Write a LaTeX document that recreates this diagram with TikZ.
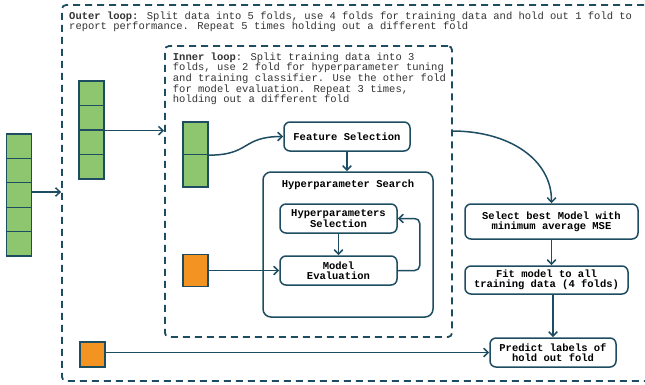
\documentclass[tikz,border=0pt]{standalone}
\usepackage{fontspec}
\setmainfont{Liberation Mono}
\usetikzlibrary{arrows.meta,calc}
\definecolor{ink}{HTML}{1E4D62}
\definecolor{foldgreen}{HTML}{8DC66E}
\definecolor{foldorange}{HTML}{F39322}
\definecolor{bodytext}{HTML}{333333}
\begin{document}
\begin{tikzpicture}[x=1pt,y=-1pt,
  font=\fontsize{10.5}{10.6}\selectfont,
  conn/.style={draw=ink, line width=1.5pt, -{Straight Barb[length=4.5pt,width=8.5pt]}},
  box/.style={draw=ink, line width=1.5pt, rounded corners=6pt, fill=white,
    align=center, inner sep=0pt, font=\fontsize{10.5}{10.4}\selectfont\bfseries, text=black},
  loopbox/.style={draw=ink, line width=1.8pt, dash pattern=on 7pt off 5pt,
    rounded corners=4pt, inner sep=0pt},
  fold/.style={draw=ink, line width=1.3pt, fill=foldgreen, inner sep=0pt,
    minimum width=25pt},
  heldout/.style={fold, fill=foldorange},
  note/.style={anchor=base west, align=left, inner sep=0pt, text=bodytext}]

\useasboundingbox (0,0) rectangle (645,384);
\clip (0,0) rectangle (645,384);

% dashed loop frames
\node[loopbox, minimum width=598pt, minimum height=376pt] (outer) at (361,193) {};
\node[loopbox, minimum width=287pt, minimum height=291pt] (inner) at (308.5,191.5) {};

% loop descriptions (anchored on the baseline of their last line)
\node[note] (outertxt) at (69,29.8)
  {\textbf{Outer loop:} Split data into 5 folds, use 4 folds for training data and hold out 1 fold to\\
   report performance. Repeat 5 times holding out a different fold};
\node[note] (innertxt) at (172.7,102.6)
  {\textbf{Inner loop}: Split training data into 3\\
   folds, use 2 fold for hyperparameter tuning\\
   and training classifier. Use the other fold\\
   for model evaluation. Repeat 3 times,\\
   holding out a different fold};

% data folds
\foreach \i in {1,...,5}
  \node[fold, minimum height=24.4pt] (ga\i) at (19,{134+24.4*(\i-0.5)}) {};
\foreach \i in {1,...,4}
  \node[fold, minimum height=24.5pt] (gb\i) at (91.5,{81+24.5*(\i-0.5)}) {};
\foreach \i in {1,2}
  \node[fold, minimum height=32.5pt] (gc\i) at (195.5,{122+32.5*(\i-0.5)}) {};
\node[heldout, minimum height=32pt] (om) at (195.5,270.5) {};
\node[heldout, minimum height=25pt] (ob) at (92.5,354.5) {};

% process boxes
\node[box, minimum width=126pt, minimum height=29pt] (feat) at (347,136.5) {Feature Selection};
\node[box, rounded corners=8pt, minimum width=170pt, minimum height=145pt] (hps) at (348,244.5) {};
\node[anchor=base, inner sep=0pt, font=\fontsize{10.5}{10.6}\selectfont\bfseries] (hpstitle) at (348,187.5) {Hyperparameter Search};
\node[box, minimum width=117pt, minimum height=29pt] (hsel) at (338.5,218.5) {Hyperparameters\\Selection};
\node[box, minimum width=117pt, minimum height=29pt] (meval) at (338.5,270.5) {Model\\Evaluation};
\node[box, minimum width=173pt, minimum height=35pt] (select) at (551.5,221.5) {Select best Model with\\minimum average MSE};
\node[box, minimum width=163pt, minimum height=28pt] (fit) at (546.5,280) {Fit model to all\\training data (4 folds)};
\node[box, minimum width=126pt, minimum height=29pt] (predict) at (553,352.5) {Predict labels of\\hold out fold};

\coordinate (innerout) at (452,131);

% connectors
\draw[conn] ([yshift=3pt]ga3.east) -- ([yshift=3pt]ga3.east -| outer.west);
\draw[conn] (gb2.south east) -- (gb2.south east -| inner.west);
\draw[conn] (gc1.south east) to[out=0,in=180,looseness=1.4] (feat.west);
\draw[conn] (feat.south) -- (feat.south |- hps.north);
\draw[conn] (hsel.south) -- (meval.north);
\draw[conn, rounded corners=5pt] (meval.east) -- ++(22,0) |- (hsel.east);
\draw[conn] (om.east |- meval.west) -- (meval.west);
\draw[conn] (innerout) .. controls (510,131) and (552,160) .. (select.north);
\draw[conn] (select.south) -- (select.south |- fit.north);
\draw[conn] (predict.north |- fit.south) -- (predict.north);
\draw[conn] (ob.east |- predict.west) -- (predict.west);
\end{tikzpicture}
\end{document}
